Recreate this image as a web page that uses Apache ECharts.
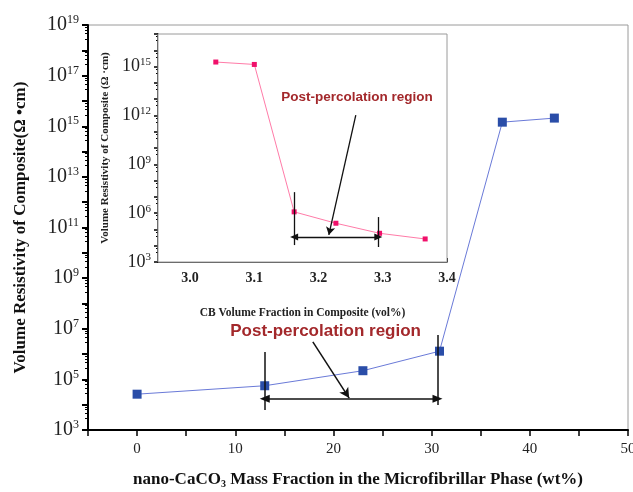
<!DOCTYPE html>
<html>
<head>
<meta charset="utf-8">
<script src="https://cdn.jsdelivr.net/npm/echarts@6/dist/echarts.min.js"></script>
<style>html,body{margin:0;padding:0;background:#fff}#c{width:633px;height:492px}</style>
</head>
<body>
<div id="c"></div>
<script>
// Main chart data
const mainX = [0, 13, 23, 30.8, 37.2, 42.5];
const mainY = [2.6e4, 5.6e4, 2.2e5, 1.3e6, 1.45e15, 2.1e15];
// Inset data
const insetX = [3.04, 3.10, 3.162, 3.227, 3.295, 3.366];
const insetY = [1.9e15, 1.35e15, 1.2e6, 2.4e5, 5.8e4, 2.6e4];

// Annotation anchors (data coordinates)
const mainRegionX = [13, 30.6];
const mainBarLeftY = [Math.pow(10, 6.08), Math.pow(10, 3.79)];
const mainBarRightY = [Math.pow(10, 6.75), Math.pow(10, 3.99)];
const mainArrowY = Math.pow(10, 4.23);
const mainPointer = [[17.9, Math.pow(10, 6.48)], [21.6, Math.pow(10, 4.26)]];
const mainTextAt = [19.2, Math.pow(10, 6.9)];

const insetRegionX = [3.162, 3.293];
const insetBarLeftY = [Math.pow(10, 7.29), Math.pow(10, 4.04)];
const insetBarRightY = [Math.pow(10, 5.76), Math.pow(10, 3.92)];
const insetArrowY = Math.pow(10, 4.53);
const insetPointer = [[3.258, Math.pow(10, 12.02)], [3.216, Math.pow(10, 4.66)]];
const insetTextAt = [3.26, Math.pow(10, 13.12)];

const regionText = 'Post-percolation region';

const serif = 'Liberation Serif';
const sans = 'Liberation Sans';

function expOf(v) { return Math.round(Math.log10(v)); }

function regionMarks(xs, yl, yr, ay, ptr, lw, head) {
  return {
    silent: true,
    animation: false,
    label: { show: false },
    lineStyle: { color: '#111', width: lw, type: 'solid' },
    emphasis: { disabled: true },
    data: [
      [{ coord: [xs[0], yl[0]], symbol: 'none' }, { coord: [xs[0], yl[1]], symbol: 'none' }],
      [{ coord: [xs[1], yr[0]], symbol: 'none' }, { coord: [xs[1], yr[1]], symbol: 'none' }],
      [{ coord: [xs[0], ay], symbol: 'triangle', symbolSize: head, symbolRotate: 90 }, { coord: [xs[1], ay], symbol: 'triangle', symbolSize: head, symbolRotate: -90 }],
      [{ coord: ptr[0], symbol: 'none' }, { coord: ptr[1], symbol: 'arrow', symbolSize: head }]
    ]
  };
}

const chart = echarts.init(document.getElementById('c'), null, { renderer: 'canvas' });
chart.setOption({
  animation: false,
  backgroundColor: '#fff',
  grid: [
    { left: 88, top: 25, right: 5, bottom: 62, show: true, borderColor: '#9a9a9a', borderWidth: 1, backgroundColor: '#fff', containLabel: false, outerBoundsMode: 'none' },
    { left: 158, top: 34, width: 289, height: 228, show: true, borderColor: '#9a9a9a', borderWidth: 1, backgroundColor: '#fff', containLabel: false, outerBoundsMode: 'none', z: 3 }
  ],
  xAxis: [
    {
      gridIndex: 0, type: 'value', min: -5, max: 50, interval: 5,
      axisLine: { show: true, onZero: false, lineStyle: { color: '#000', width: 2 } },
      axisTick: { show: true, inside: false, length: 6, lineStyle: { color: '#000', width: 1.5 } },
      splitLine: { show: false },
      axisLabel: {
        margin: 12, color: '#222', fontFamily: serif, fontSize: 15,
        formatter: v => (Math.abs(v % 10) < 1e-9 && v >= 0) ? String(v) : ''
      },
      name: 'nano-CaCO{sub|3} Mass Fraction in the Microfibrillar Phase (wt%)',
      nameLocation: 'middle', nameGap: 41,
      nameTextStyle: {
        fontFamily: serif, fontWeight: 'bold', fontSize: 17, color: '#111',
        rich: { sub: { fontFamily: serif, fontWeight: 'bold', fontSize: 10, color: '#111', verticalAlign: 'bottom', padding: [8, 0, 0, 0] } }
      }
    },
    {
      gridIndex: 1, type: 'value', min: 2.95, max: 3.4, interval: 0.05,
      axisLine: { show: true, onZero: false, lineStyle: { color: '#000', width: 1.5 } },
      axisTick: { show: true, inside: true, length: 4, lineStyle: { color: '#000', width: 1 } },
      splitLine: { show: false },
      axisLabel: {
        margin: 9, color: '#222', fontFamily: serif, fontWeight: 'bold', fontSize: 14,
        formatter: v => { const t = v * 10; return (Math.abs(t - Math.round(t)) < 1e-6) ? v.toFixed(1) : ''; }
      },
      name: 'CB Volume Fraction in Composite (vol%)',
      nameLocation: 'middle', nameGap: 45,
      nameTextStyle: { fontFamily: serif, fontWeight: 'bold', fontSize: 11.5, color: '#222' }
    }
  ],
  yAxis: [
    {
      gridIndex: 0, type: 'log', logBase: 10, min: 1e3, max: 1e19, interval: 1,
      axisLine: { show: true, onZero: false, lineStyle: { color: '#000', width: 2 } },
      axisTick: { show: true, inside: false, length: 6, lineStyle: { color: '#000', width: 2 } },
      minorTick: { show: true, splitNumber: 5, length: 3, lineStyle: { color: '#000', width: 1 } },
      splitLine: { show: false },
      axisLabel: {
        margin: 9, color: '#222', fontFamily: serif, fontSize: 20,
        formatter: v => { const e = expOf(v); return (e % 2 === 1) ? '10{sup|' + e + '}' : ''; },
        rich: { sup: { fontFamily: serif, fontSize: 12, color: '#222', verticalAlign: 'top', padding: [0, 0, 10, 0] } }
      },
      name: 'Volume Resistivity of Composite(Ω •cm)',
      nameLocation: 'middle', nameGap: 59, nameRotate: 90,
      nameTextStyle: { fontFamily: serif, fontWeight: 'bold', fontSize: 17, color: '#111' }
    },
    {
      gridIndex: 1, type: 'log', logBase: 10, min: 1e3, max: 1e17, interval: 1,
      axisLine: { show: true, onZero: false, lineStyle: { color: '#000', width: 1.5 } },
      axisTick: { show: true, inside: false, length: 4, lineStyle: { color: '#000', width: 1.5 } },
      minorTick: { show: true, splitNumber: 3, length: 2, lineStyle: { color: '#000', width: 1 } },
      splitLine: { show: false },
      axisLabel: {
        margin: 7, color: '#222', fontFamily: serif, fontSize: 18,
        formatter: v => { const e = expOf(v); return (e % 3 === 0) ? '10{sup|' + e + '}' : ''; },
        rich: { sup: { fontFamily: serif, fontSize: 11, color: '#222', verticalAlign: 'top', padding: [0, 0, 9, 0] } }
      },
      name: 'Volume Resistivity of Composite (Ω ·cm)',
      nameLocation: 'middle', nameGap: 47, nameRotate: 90,
      nameTextStyle: { fontFamily: serif, fontWeight: 'bold', fontSize: 11, color: '#222' }
    }
  ],
  series: [
    {
      type: 'line', xAxisIndex: 0, yAxisIndex: 0,
      data: mainX.map((x, i) => [x, mainY[i]]),
      symbol: 'rect', symbolSize: 9,
      itemStyle: { color: '#2a4da8' },
      lineStyle: { color: '#6a7ad8', width: 1 },
      z: 2,
      markLine: regionMarks(mainRegionX, mainBarLeftY, mainBarRightY, mainArrowY, mainPointer, 1.5, [8, 10]),
      markPoint: {
        silent: true, symbol: 'rect', symbolSize: 0, animation: false,
        itemStyle: { color: 'rgba(0,0,0,0)' },
        label: { show: true, position: 'inside', formatter: regionText, color: '#a3282b', fontFamily: sans, fontWeight: 'bold', fontSize: 17 },
        data: [{ coord: mainTextAt }]
      }
    },
    {
      type: 'line', xAxisIndex: 1, yAxisIndex: 1,
      data: insetX.map((x, i) => [x, insetY[i]]),
      symbol: 'rect', symbolSize: 5,
      itemStyle: { color: '#f0106a' },
      lineStyle: { color: '#ff7ba8', width: 1 },
      z: 5,
      markLine: Object.assign(regionMarks(insetRegionX, insetBarLeftY, insetBarRightY, insetArrowY, insetPointer, 1.3, [7, 8]), { z: 6 }),
      markPoint: {
        silent: true, symbol: 'rect', symbolSize: 0, animation: false, z: 6,
        itemStyle: { color: 'rgba(0,0,0,0)' },
        label: { show: true, position: 'inside', formatter: regionText, color: '#a3282b', fontFamily: sans, fontWeight: 'bold', fontSize: 13.5 },
        data: [{ coord: insetTextAt }]
      }
    }
  ]
});
</script>
</body>
</html>
